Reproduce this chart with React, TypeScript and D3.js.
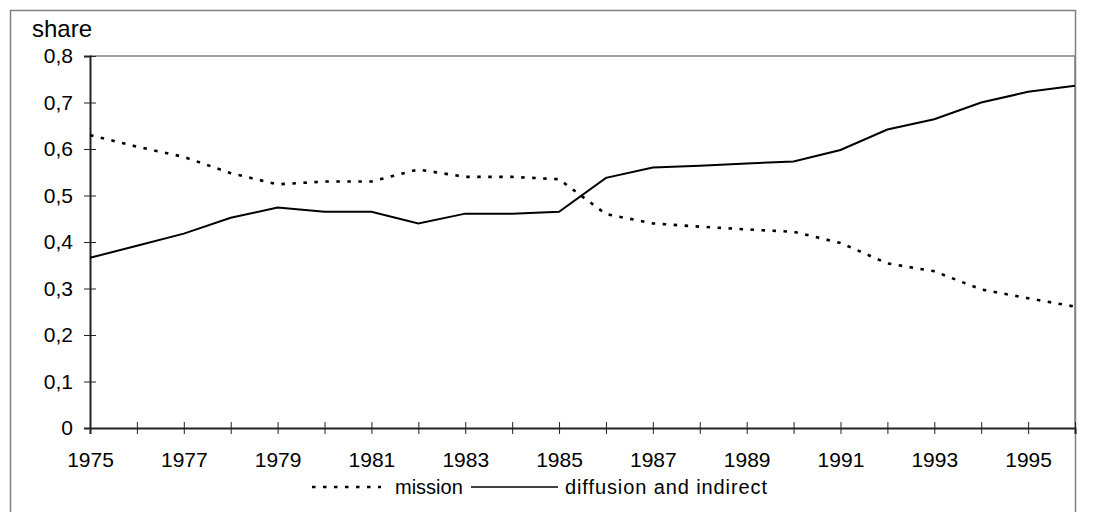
import { useEffect, useRef } from 'react';
import * as d3 from 'd3';

const years = [1975, 1976, 1977, 1978, 1979, 1980, 1981, 1982, 1983, 1984, 1985,
  1986, 1987, 1988, 1989, 1990, 1991, 1992, 1993, 1994, 1995, 1996];
const mission = [0.630, 0.605, 0.583, 0.548, 0.524, 0.530, 0.530, 0.556, 0.540, 0.540, 0.535,
  0.460, 0.440, 0.433, 0.427, 0.422, 0.398, 0.354, 0.337, 0.298, 0.279, 0.261];
const diffusion = [0.366, 0.392, 0.418, 0.452, 0.474, 0.465, 0.465, 0.440, 0.461, 0.461, 0.465,
  0.538, 0.560, 0.564, 0.569, 0.573, 0.598, 0.642, 0.664, 0.700, 0.723, 0.736];
const yTicks = [0, 0.1, 0.2, 0.3, 0.4, 0.5, 0.6, 0.7, 0.8];
const yearLabels = [1975, 1977, 1979, 1981, 1983, 1985, 1987, 1989, 1991, 1993, 1995];

const W = 1114;
const H = 512;
const FONT = '"Liberation Sans", Arial, sans-serif';

export default function App() {
  const svgRef = useRef<SVGSVGElement>(null);

  useEffect(() => {
    if (!svgRef.current) return;
    const svg = d3.select(svgRef.current);
    svg.selectAll('*').remove();

    const left = 90, right = 1075, top = 56, bottom = 428;
    const x = d3.scaleLinear().domain([years[0], years[years.length - 1]]).range([left, right]);
    const y = d3.scaleLinear().domain([0, 0.8]).range([bottom, top]);

    // outer frame
    svg.append('rect')
      .attr('x', 10.5).attr('y', 10.5)
      .attr('width', 1065).attr('height', 520)
      .attr('fill', 'white').attr('stroke', '#808080').attr('stroke-width', 1.5);

    // plot area border (top + right)
    svg.append('path')
      .attr('d', `M${left},${top}H${right}V${bottom}`)
      .attr('fill', 'none').attr('stroke', '#808080').attr('stroke-width', 1.5);

    // y axis
    const yAxis = svg.append('g')
      .attr('transform', `translate(${left},0)`)
      .call(d3.axisLeft(y).tickValues(yTicks).tickSize(6).tickPadding(11)
        .tickFormat(d => d3.format('.1f')(d as number).replace('.', ',').replace(/^0,0$/, '0')));
    yAxis.select('.domain').attr('stroke', '#222').attr('stroke-width', 2);
    yAxis.selectAll('.tick line').attr('x1', 6).attr('x2', -6).attr('stroke', '#222');
    yAxis.selectAll('.tick text')
      .attr('font-family', FONT).attr('font-size', 21).attr('fill', '#000');

    // x axis
    const xAxis = svg.append('g')
      .attr('transform', `translate(0,${bottom})`)
      .call(d3.axisBottom(x).tickValues(years).tickSize(6).tickPadding(18)
        .tickFormat(d => (yearLabels.includes(d as number) ? String(d) : '')));
    xAxis.select('.domain').attr('stroke', '#222').attr('stroke-width', 2);
    xAxis.selectAll('.tick line').attr('y1', -6).attr('y2', 6).attr('stroke', '#222');
    xAxis.selectAll('.tick text')
      .attr('font-family', FONT).attr('font-size', 21).attr('fill', '#000');

    // series
    const line = d3.line<number>()
      .x((_, i) => x(years[i]))
      .y(d => y(d));

    svg.append('path')
      .attr('d', line(diffusion))
      .attr('fill', 'none').attr('stroke', '#000').attr('stroke-width', 2);

    svg.append('path')
      .attr('d', line(mission))
      .attr('fill', 'none').attr('stroke', '#000').attr('stroke-width', 2.6)
      .attr('stroke-dasharray', '3.5 7.5');

    // title
    svg.append('text')
      .attr('x', 32).attr('y', 37)
      .attr('font-family', FONT).attr('font-size', 24)
      .text('share');

    // legend
    const ly = 487;
    const lg = svg.append('g');
    lg.append('line')
      .attr('x1', 312).attr('x2', 381).attr('y1', ly).attr('y2', ly)
      .attr('stroke', '#000').attr('stroke-width', 2.6).attr('stroke-dasharray', '3.5 7.5');
    lg.append('text')
      .attr('x', 395).attr('y', ly + 7)
      .attr('font-family', FONT).attr('font-size', 20)
      .text('mission');
    lg.append('line')
      .attr('x1', 471).attr('x2', 558).attr('y1', ly).attr('y2', ly)
      .attr('stroke', '#000').attr('stroke-width', 1.5);
    lg.append('text')
      .attr('x', 565).attr('y', ly + 7)
      .attr('font-family', FONT).attr('font-size', 20)
      .attr('textLength', 202).attr('lengthAdjust', 'spacing')
      .text('diffusion and indirect');
  }, []);

  return (
    <div style={{ position: 'absolute', left: 0, top: 0 }}>
      <svg ref={svgRef} width={W} height={H} style={{ display: 'block' }}></svg>
    </div>
  );
}
